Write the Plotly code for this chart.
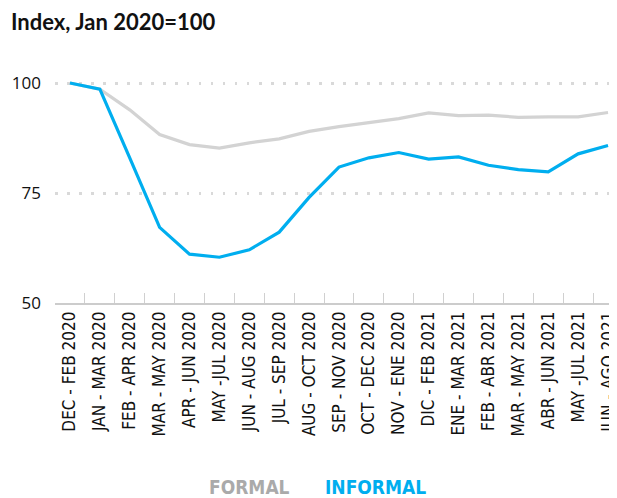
import plotly.graph_objects as go

categories = ["DEC - FEB 2020", "JAN - MAR 2020", "FEB - APR 2020", "MAR - MAY 2020",
              "APR - JUN 2020", "MAY -JUL 2020", "JUN - AUG 2020", "JUL - SEP 2020",
              "AUG - OCT 2020", "SEP - NOV 2020", "OCT - DEC 2020", "NOV - ENE 2020",
              "DIC - FEB 2021", "ENE - MAR 2021", "FEB - ABR 2021", "MAR - MAY 2021",
              "ABR - JUN 2021", "MAY -JUL 2021", "JUN - AGO 2021"]
formal = [100, 98.6, 93.9, 88.3, 86.0, 85.2, 86.4, 87.3, 89.0, 90.1, 91.0, 91.9,
          93.2, 92.6, 92.7, 92.2, 92.3, 92.3, 93.3]
informal = [100, 98.6, 83.0, 67.2, 61.1, 60.4, 62.1, 66.1, 74.0, 80.9, 83.0, 84.2,
            82.7, 83.2, 81.3, 80.3, 79.8, 83.9, 85.8]
y_ticks = [50, 75, 100]

GRAY = "#d3d3d3"
BLUE = "#00aeef"

# page body has an 8px default margin; figure is sized to fit the 617x498 window
W, H = 609, 490
L, T, B = 47, 53, 195
PW, PH = W - L, H - T - B

fig = go.Figure()
fig.add_trace(go.Scatter(x=categories, y=formal, mode="lines", name="FORMAL",
                         line=dict(color=GRAY, width=3.2)))
fig.add_trace(go.Scatter(x=categories, y=informal, mode="lines", name="INFORMAL",
                         line=dict(color=BLUE, width=3.2)))

fig.update_layout(
    width=W, height=H,
    margin=dict(l=L, r=0, t=T, b=B),
    plot_bgcolor="white", paper_bgcolor="white",
    showlegend=False,
    xaxis=dict(
        type="category",
        range=[-0.5, 18.3],
        tickangle=-90,
        tickfont=dict(family="Liberation Sans Narrow, DejaVu Sans Condensed", size=17, color="#111"),
        showgrid=False, zeroline=False,
        showline=True, linecolor="#cccccc", linewidth=1.5,
        ticks="inside", tickson="boundaries", ticklen=10, tickcolor="#d0d0d0", tickwidth=1.2,
    ),
    yaxis=dict(
        range=[50, 105],
        tickvals=y_ticks,
        tickfont=dict(family="Open Sans", size=17, color="#111"),
        showgrid=True, gridcolor="#d9d9d9", griddash="2.5px,9.5px", gridwidth=2.5,
        zeroline=False, showline=False, ticks="", ticklabelstandoff=13,
    ),
)

fig.add_annotation(text="<b>Index, Jan 2020=100</b>", xref="paper", yref="paper",
                   x=-(L - 1) / PW, y=1 + 39 / PH, xanchor="left", yanchor="middle",
                   showarrow=False, font=dict(family="Lato", size=22, color="#111", weight=900))
fig.add_annotation(text="<b>FORMAL</b>", xref="paper", yref="paper",
                   x=(241 - L) / PW, y=-184 / PH, xanchor="center", yanchor="middle",
                   showarrow=False, font=dict(family="Liberation Sans Narrow, DejaVu Sans Condensed", size=19, color="#aaaaaa"))
fig.add_annotation(text="<b>INFORMAL</b>", xref="paper", yref="paper",
                   x=(367 - L) / PW, y=-184 / PH, xanchor="center", yanchor="middle",
                   showarrow=False, font=dict(family="Liberation Sans Narrow, DejaVu Sans Condensed", size=19, color=BLUE))

fig.write_html("out.html")
